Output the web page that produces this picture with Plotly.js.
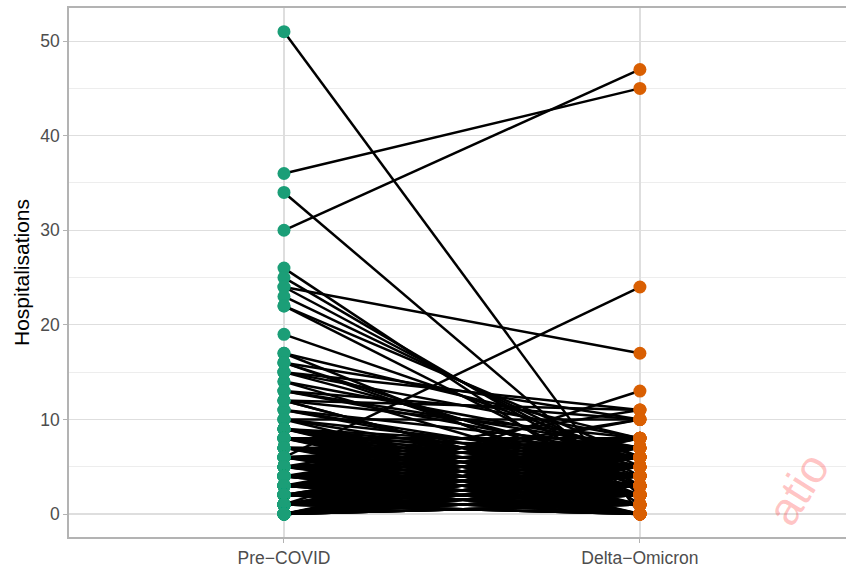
<!DOCTYPE html>
<html>
<head>
<meta charset="utf-8">
<script src="https://cdn.plot.ly/plotly-3.0.1.min.js"></script>
<style>
html,body{margin:0;padding:0;background:#fff;}
#chart{width:846px;height:568px;}
</style>
</head>
<body>
<div id="chart"></div>
<script>
// Category labels
var periods = ["Pre\u2212COVID", "Delta\u2212Omicron"];

// Paired hospitalisation counts (one entry per unit)
var preCovid = [
  51,36,34,30,26,25,24,24,23,22,22,19,17,17,16,16,15,15,14,14,13,13,12,12,12,11,11,10,10,10,6,1,3,5,4,2,
  15,13,11,10,9,16,12,
  9,9,9,9,9,9,9,
  8,8,8,8,8,8,8,8,8,
  7,7,7,7,7,7,7,7,
  6,6,6,6,6,6,6,6,6,6,
  5,5,5,5,5,5,5,5,5,5,5,5,
  4,4,4,4,4,4,4,4,4,4,4,4,4,4,
  3,3,3,3,3,3,3,3,3,3,3,3,3,3,3,3,3,
  2,2,2,2,2,2,2,2,2,2,2,2,2,2,2,2,2,2,2,2,
  1,1,1,1,1,1,1,1,1,1,1,1,1,1,1,1,1,1,1,1,1,1,1,
  0,0,0,0,0,0,0,0,0,0,0,0,0,0,0,0,0,0,0,0,0,0,0,0
];
var deltaOmicron = [
  0,45,2,47,1,3,17,4,5,3,6,6,2,8,10,4,11,5,7,3,10,6,11,8,2,7,4,10,6,1,24,13,10,11,10,8,
  8,7,5,4,6,3,2,
  5,3,7,1,2,4,0,
  4,6,2,8,0,3,5,1,7,
  3,5,7,1,4,0,2,6,
  2,4,6,0,3,8,1,5,7,2,
  2,3,5,1,7,4,0,2,3,6,8,1,
  1,2,3,5,6,0,4,8,1,2,3,5,7,0,
  0,1,2,3,4,5,6,7,2,1,0,1,3,4,6,8,2,
  0,1,2,3,4,5,6,7,1,2,3,0,1,2,3,4,5,8,0,2,
  0,1,2,3,4,5,6,7,8,1,2,0,3,0,1,2,3,4,5,6,2,0,1,
  1,2,3,4,5,6,7,8,1,2,3,1,2,4,1,2,3,5,6,1,2,3,4,7
];

var lx = [], ly = [];
for (var i = 0; i < preCovid.length; i++) {
  lx.push(1, 2, null);
  ly.push(preCovid[i], deltaOmicron[i], null);
}
var px = preCovid.map(function(){return 1;});
var dx = deltaOmicron.map(function(){return 2;});

var traces = [
  {x: lx, y: ly, type: 'scatter', mode: 'lines', line: {color: '#000000', width: 2.5}, hoverinfo: 'skip', showlegend: false, connectgaps: false},
  {x: px, y: preCovid, type: 'scatter', mode: 'markers', marker: {color: '#1B9E77', size: 13}, showlegend: false},
  {x: dx, y: deltaOmicron, type: 'scatter', mode: 'markers', marker: {color: '#D95F02', size: 13}, showlegend: false}
];

var layout = {
  width: 846, height: 568,
  margin: {l: 69, r: 0, t: 8, b: 31, pad: 0},
  paper_bgcolor: '#ffffff', plot_bgcolor: '#ffffff',
  font: {family: 'Liberation Sans, Arial, sans-serif', color: '#4D4D4D', size: 18},
  showlegend: false,
  xaxis: {
    range: [0.396, 2.579],
    tickmode: 'array', tickvals: [1, 2], ticktext: periods,
    showgrid: true, gridcolor: '#DEDEDE', gridwidth: 1.2,
    zeroline: false,
    showline: true, mirror: true, linecolor: '#B3B3B3', linewidth: 1.8,
    ticks: 'outside', ticklen: 4, tickcolor: '#B3B3B3', tickwidth: 1,
    tickfont: {size: 17.5, color: '#4D4D4D'}
  },
  yaxis: {
    range: [-2.43, 53.5],
    tickmode: 'array', tickvals: [0,10,20,30,40,50],
    showgrid: true, gridcolor: '#DEDEDE', gridwidth: 1.2,
    minor: {tickmode: 'array', tickvals: [5,15,25,35,45], showgrid: true, gridcolor: '#EDEDED', gridwidth: 1, ticks: ''},
    zeroline: false,
    showline: true, mirror: false, linecolor: '#B3B3B3', linewidth: 1.8,
    ticks: 'outside', ticklen: 4, tickcolor: '#B3B3B3', tickwidth: 1,
    tickfont: {size: 17.5, color: '#4D4D4D'},
    title: {text: 'Hospitalisations', font: {size: 21, color: '#000000'}, standoff: 5}
  },
  annotations: [
    {xref: 'paper', yref: 'paper', x: 0.995, y: 0.0, xanchor: 'right', yanchor: 'bottom',
     text: 'atio', showarrow: false, textangle: -58,
     font: {size: 46, color: 'rgba(255,50,50,0.28)', family: 'Liberation Sans, Arial, sans-serif'}}
  ]
};

Plotly.newPlot('chart', traces, layout, {displayModeBar: false, staticPlot: true});
</script>
</body>
</html>
